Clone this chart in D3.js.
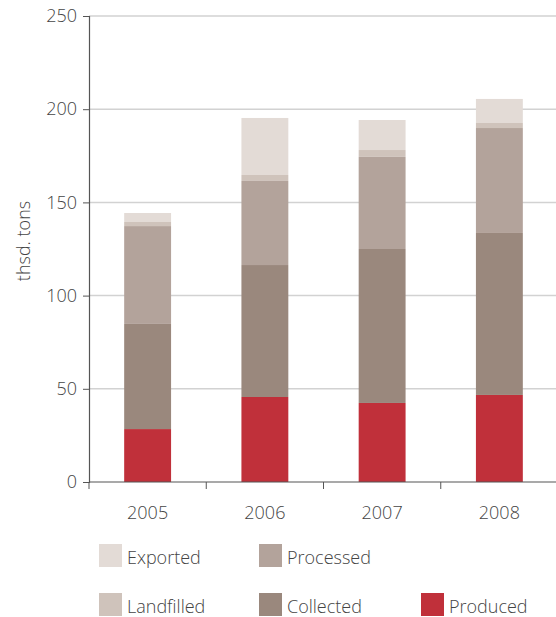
<!DOCTYPE html>
<html>
<head>
<meta charset="utf-8">
<script src="https://cdn.jsdelivr.net/npm/d3@7"></script>
<style>
  body { margin: 0; background: #fff; }
  text { font-family: "Open Sans", sans-serif; font-weight: 300; fill: #444; }
</style>
</head>
<body>
<div id="chart-area"></div>
<script>
// Data (thsd. tons, stacked segments)
var years = ["2005", "2006", "2007", "2008"];
var produced = [28.4, 45.6, 42.4, 46.7];
var collected = [56.4, 70.8, 82.6, 86.9];
var processed = [52.5, 45.1, 49.4, 56.3];
var landfilled = [2.2, 3.2, 3.7, 2.7];
var exported = [4.8, 30.6, 16.1, 12.9];
var yTicks = [0, 50, 100, 150, 200, 250];

var seriesNames = ["Produced", "Collected", "Processed", "Landfilled", "Exported"];
var seriesColors = ["#c0303a", "#9a887d", "#b3a39b", "#cfc3bb", "#e3dbd6"];

var table = years.map((y, i) => ({
    year: y,
    Produced: produced[i],
    Collected: collected[i],
    Processed: processed[i],
    Landfilled: landfilled[i],
    Exported: exported[i]
}));

var W = 556, H = 617;
var margin = { top: 16, right: -2, bottom: 135, left: 89 };
var width = W - margin.left - margin.right;
var height = H - margin.top - margin.bottom;

var svg = d3.select("#chart-area")
    .append("svg")
    .attr("width", W)
    .attr("height", H);

var g = svg.append("g")
    .attr("transform", "translate(" + margin.left + ", " + margin.top + ")");

// SCALES
var x = d3.scaleBand()
    .domain(years)
    .range([0, width])
    .paddingInner(0.6)
    .paddingOuter(0.3);

var y = d3.scaleLinear()
    .domain([0, 250])
    .range([height, 0]);

var color = d3.scaleOrdinal()
    .domain(seriesNames)
    .range(seriesColors);

// grid lines
g.selectAll(".grid")
    .data(yTicks.filter((d) => d > 0))
    .enter()
    .append("line")
    .attr("class", "grid")
    .attr("x1", 0)
    .attr("x2", width)
    .attr("y1", (d) => y(d))
    .attr("y2", (d) => y(d))
    .attr("stroke", "#d2d2d2")
    .attr("stroke-width", 1.5);

// stacked bars
var stack = d3.stack().keys(seriesNames);
var layers = stack(table);

g.selectAll(".layer")
    .data(layers)
    .enter()
    .append("g")
    .attr("class", "layer")
    .attr("fill", (d) => color(d.key))
    .selectAll("rect")
    .data((d) => d)
    .enter()
    .append("rect")
    .attr("x", (d) => x(d.data.year))
    .attr("y", (d) => y(d[1]))
    .attr("width", x.bandwidth())
    .attr("height", (d) => y(d[0]) - y(d[1]));

// left axis
var leftAxis = d3.axisLeft(y)
    .tickValues(yTicks)
    .tickSize(6)
    .tickPadding(6);

var la = g.append("g")
    .attr("class", "left axis")
    .call(leftAxis);
la.select(".domain").attr("stroke", "#555").attr("stroke-width", 1.2);
la.selectAll(".tick line").attr("stroke", "#555");
la.selectAll("text")
    .attr("font-size", "18px")
    .style("font-family", "'Open Sans', sans-serif")
    .style("font-weight", 300)
    .style("fill", "#444");

// bottom axis: ticks at band boundaries
var step = x.step();
var boundaries = d3.range(years.length + 1).map((i) => i * step);

g.append("line")
    .attr("x1", 0)
    .attr("x2", width)
    .attr("y1", height)
    .attr("y2", height)
    .attr("stroke", "#555")
    .attr("stroke-width", 1.2);

g.selectAll(".xtick")
    .data(boundaries)
    .enter()
    .append("line")
    .attr("class", "xtick")
    .attr("x1", (d) => d)
    .attr("x2", (d) => d)
    .attr("y1", height)
    .attr("y2", height + 7)
    .attr("stroke", "#555");

g.selectAll(".xlabel")
    .data(years)
    .enter()
    .append("text")
    .attr("class", "xlabel")
    .attr("x", (d) => x(d) + x.bandwidth() / 2)
    .attr("y", height + 37)
    .attr("text-anchor", "middle")
    .attr("font-size", "18px")
    .text((d) => d);

// Y label
g.append("text")
    .attr("x", -(height / 2) + 8)
    .attr("y", -59)
    .attr("font-size", "18px")
    .attr("text-anchor", "middle")
    .attr("transform", "rotate(-90)")
    .text("thsd. tons");

// legend
var legendItems = [
    { name: "Exported", lx: 99, ly: 544 },
    { name: "Processed", lx: 259, ly: 544 },
    { name: "Landfilled", lx: 99, ly: 593 },
    { name: "Collected", lx: 259, ly: 593 },
    { name: "Produced", lx: 421, ly: 593 }
];

var lg = svg.selectAll(".legend")
    .data(legendItems)
    .enter()
    .append("g")
    .attr("class", "legend")
    .attr("transform", (d) => "translate(" + d.lx + ", " + d.ly + ")");

lg.append("rect")
    .attr("width", 23)
    .attr("height", 23)
    .attr("fill", (d) => color(d.name));

lg.append("text")
    .attr("x", 28)
    .attr("y", 20)
    .attr("font-size", "18px")
    .text((d) => d.name);
</script>
</body>
</html>
